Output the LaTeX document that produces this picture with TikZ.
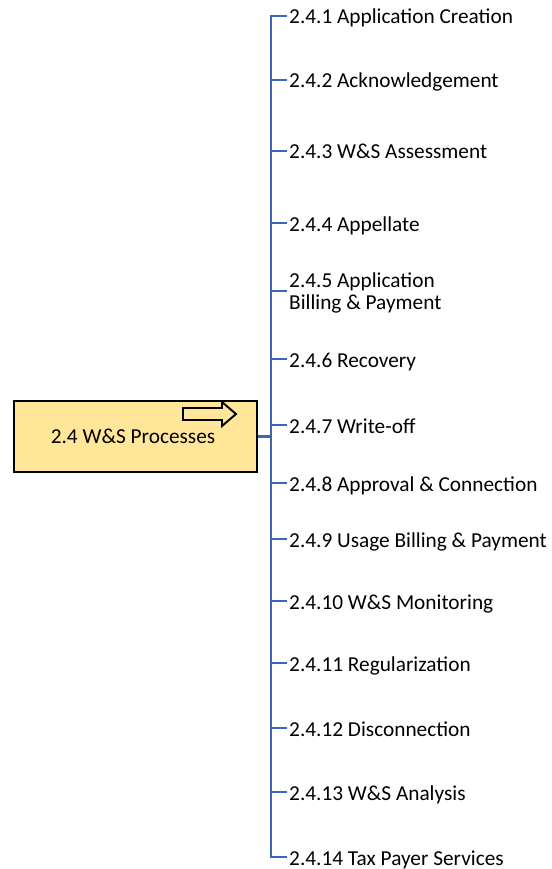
\documentclass[tikz,border=0pt]{standalone}
\usepackage{fontspec}
\setmainfont{Carlito}
\definecolor{trunkblue}{RGB}{64,104,176}
\definecolor{boxyellow}{RGB}{255,230,153}
\begin{document}
\begin{tikzpicture}[x=1pt,y=-1pt,
  every node/.style={font=\fontsize{21.3}{22}\selectfont, inner sep=2pt},
  rootbox/.style={draw=black, line width=1.9pt, fill=boxyellow,
    minimum width=243pt, minimum height=71pt, anchor=west},
  leaf/.style={anchor=base west, text=black},
  link/.style={draw=trunkblue, line width=2.8pt},
  blockarrow/.style={draw=black, line width=1.9pt, fill=boxyellow, line join=miter}]
\useasboundingbox (0,0) rectangle (551,869);

% root process box
\node[rootbox] (root) at (13,436.5) {};
\node[anchor=base] (rootlabel) at (133,443) {2.4 W\&S Processes};
\draw[blockarrow] (183,408) -- (222,408) -- (222,402) -- (236,414)
  -- (222,426) -- (222,420) -- (183,420) -- cycle;

% trunk junction
\coordinate (trunk) at (271,436.5);

% sub-processes (base anchor: baseline of the last line)
\node[leaf] (c1)  at (287,24)  {2.4.1 Application Creation};
\node[leaf] (c2)  at (287,88)  {2.4.2 Acknowledgement};
\node[leaf] (c3)  at (287,159) {2.4.3 W\&S Assessment};
\node[leaf] (c4)  at (287,231) {2.4.4 Appellate};
\node[leaf, align=left] (c5) at (287,309) {2.4.5 Application\\Billing \& Payment};
\node[leaf] (c6)  at (287,367) {2.4.6 Recovery};
\node[leaf] (c7)  at (287,433) {2.4.7 Write-off};
\node[leaf] (c8)  at (287,491) {2.4.8 Approval \& Connection};
\node[leaf] (c9)  at (287,547) {2.4.9 Usage Billing \& Payment};
\node[leaf] (c10) at (287,609) {2.4.10 W\&S Monitoring};
\node[leaf] (c11) at (287,671) {2.4.11 Regularization};
\node[leaf] (c12) at (287,736) {2.4.12 Disconnection};
\node[leaf] (c13) at (287,800) {2.4.13 W\&S Analysis};
\node[leaf] (c14) at (287,865) {2.4.14 Tax Payer Services};

% connectors
\draw[link] (root.east) -- (trunk);
\draw[link] (c1.west |- 0,16) -| (trunk) |- (c14.west |- 0,857);
\foreach \y/\c in {80/c2,151/c3,223/c4,291/c5,359/c6,425/c7,483/c8,539/c9,601/c10,663/c11,728/c12,792/c13}
  \draw[link] (trunk |- 0,\y) -- (\c.west |- 0,\y);
\end{tikzpicture}
\end{document}
